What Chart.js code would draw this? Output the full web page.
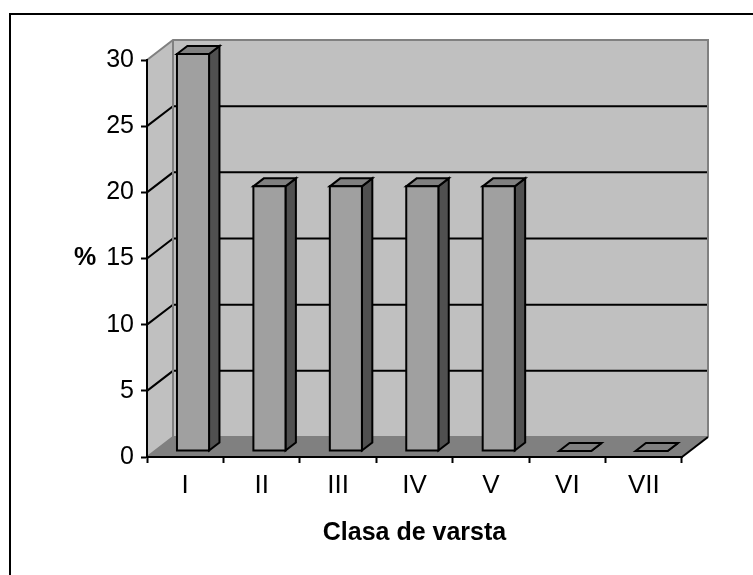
<!DOCTYPE html>
<html>
<head>
<meta charset="utf-8">
<script src="https://cdn.jsdelivr.net/npm/chart.js@4/dist/chart.umd.min.js"></script>
<style>
  html, body { margin: 0; padding: 0; background: #fff; overflow: hidden; }
  canvas { display: block; }
</style>
</head>
<body>
<canvas id="c" width="753" height="575"></canvas>
<script>
// ---- data ----
const categories = ['I', 'II', 'III', 'IV', 'V', 'VI', 'VII'];
const percentValues = [30, 20, 20, 20, 20, 0, 0];
const yTickMin = 0;
const yTickMax = 30;
const yTickStep = 5;
const xAxisTitle = 'Clasa de varsta';
const yAxisTitle = '%';

// ---- style constants ----
const FONT = '"Liberation Sans", Arial, Helvetica, sans-serif';
const TICK_FONT = '"Liberation Sans Narrow", "Arial Narrow", "Liberation Sans", Arial, sans-serif';
const DX = 26, DY = -20;           // depth offset front->back plane
const BAR_FRONT = 0.3, BAR_BACK = 0.7;

const threeD = {
  id: 'threeD',
  beforeDraw(chart) {
    const ctx = chart.ctx;
    const { left, right, top, bottom } = chart.chartArea;
    const ys = chart.scales.y;
    ctx.save();
    ctx.fillStyle = '#ffffff';
    ctx.fillRect(0, 0, chart.width, chart.height);

    // outer frame
    ctx.strokeStyle = '#000';
    ctx.lineWidth = 2;
    ctx.strokeRect(10, 14, chart.width + 20, chart.height + 20);

    // back wall
    ctx.fillStyle = '#c0c0c0';
    ctx.fillRect(left + DX, top + DY, right - left, bottom - top);
    // left wall
    ctx.beginPath();
    ctx.moveTo(left, top); ctx.lineTo(left + DX, top + DY);
    ctx.lineTo(left + DX, bottom + DY); ctx.lineTo(left, bottom);
    ctx.closePath();
    ctx.fill();
    // floor
    ctx.fillStyle = '#808080';
    ctx.beginPath();
    ctx.moveTo(left, bottom); ctx.lineTo(right, bottom);
    ctx.lineTo(right + DX, bottom + DY); ctx.lineTo(left + DX, bottom + DY);
    ctx.closePath();
    ctx.fill();

    // gridlines
    ctx.strokeStyle = '#000';
    ctx.lineWidth = 2;
    ys.ticks.forEach(t => {
      if (t.value <= ys.min || t.value >= ys.max) return;
      const yv = ys.getPixelForValue(t.value);
      ctx.beginPath();
      ctx.moveTo(left, yv);
      ctx.lineTo(left + DX, yv + DY);
      ctx.lineTo(right + DX, yv + DY);
      ctx.stroke();
    });

    // wall edges (gray)
    ctx.strokeStyle = '#808080';
    ctx.lineWidth = 2;
    ctx.beginPath();
    ctx.moveTo(left, top); ctx.lineTo(left + DX, top + DY);
    ctx.lineTo(right + DX, top + DY); ctx.lineTo(right + DX, bottom + DY);
    ctx.moveTo(left + DX, top + DY); ctx.lineTo(left + DX, bottom + DY);
    ctx.lineTo(right + DX, bottom + DY);
    ctx.moveTo(left, bottom); ctx.lineTo(left + DX, bottom + DY);
    ctx.stroke();
    // floor right edge (black)
    ctx.strokeStyle = '#000';
    ctx.beginPath();
    ctx.moveTo(right, bottom); ctx.lineTo(right + DX, bottom + DY);
    ctx.stroke();

    // horizontal y-axis title
    ctx.fillStyle = '#000';
    ctx.font = 'bold 25px ' + FONT;
    ctx.textAlign = 'center';
    ctx.textBaseline = 'middle';
    ctx.fillText(yAxisTitle, 85, (ys.top + ys.bottom) / 2);
    ctx.restore();
  },
  afterDatasetsDraw(chart) {
    const ctx = chart.ctx;
    const meta = chart.getDatasetMeta(0);
    const fx = BAR_FRONT * DX, fy = BAR_FRONT * DY;
    const bx = (BAR_BACK - BAR_FRONT) * DX, by = (BAR_BACK - BAR_FRONT) * DY;
    ctx.save();
    ctx.lineWidth = 2;
    ctx.strokeStyle = '#000';
    ctx.lineJoin = 'miter';
    meta.data.forEach(bar => {
      const p = bar.getProps(['x', 'y', 'base', 'width'], true);
      const l = p.x - p.width / 2 + fx, r = p.x + p.width / 2 + fx;
      const t = Math.min(p.y, p.base) + fy, b = Math.max(p.y, p.base) + fy;
      // side face
      ctx.fillStyle = '#505050';
      ctx.beginPath();
      ctx.moveTo(r, t); ctx.lineTo(r + bx, t + by); ctx.lineTo(r + bx, b + by); ctx.lineTo(r, b);
      ctx.closePath(); ctx.fill(); ctx.stroke();
      // top face
      ctx.fillStyle = '#808080';
      ctx.beginPath();
      ctx.moveTo(l, t); ctx.lineTo(l + bx, t + by); ctx.lineTo(r + bx, t + by); ctx.lineTo(r, t);
      ctx.closePath(); ctx.fill(); ctx.stroke();
      // front face
      ctx.fillStyle = '#a0a0a0';
      ctx.beginPath();
      ctx.rect(l, t, r - l, b - t);
      ctx.fill(); ctx.stroke();
    });
    ctx.restore();
  }
};

new Chart(document.getElementById('c'), {
  type: 'bar',
  data: {
    labels: categories,
    datasets: [{
      data: percentValues,
      backgroundColor: 'rgba(0,0,0,0)',
      borderWidth: 0,
      categoryPercentage: 1,
      barPercentage: 0.42
    }]
  },
  options: {
    responsive: false,
    animation: false,
    events: [],
    layout: { padding: { left: 0, right: 71, top: 60, bottom: 0 } },
    plugins: { legend: { display: false }, tooltip: { enabled: false } },
    scales: {
      x: {
        grid: { offset: true, drawOnChartArea: false, tickColor: '#000', tickLength: 6, tickWidth: 2 },
        border: { color: '#000', width: 2 },
        ticks: { color: '#000', font: { family: TICK_FONT, size: 26 }, padding: 7 },
        title: { display: true, text: xAxisTitle, color: '#000', font: { family: FONT, size: 25, weight: 'bold' }, padding: { top: 0, bottom: 27 } },
        afterFit(s) { s.height = 118; }
      },
      y: {
        min: yTickMin, max: yTickMax,
        grid: { drawOnChartArea: false, tickColor: '#000', tickLength: 6, tickWidth: 2 },
        border: { color: '#000', width: 2 },
        ticks: { stepSize: yTickStep, color: '#000', font: { family: TICK_FONT, size: 25 }, padding: 7 },
        afterFit(s) { s.width = 147; }
      }
    }
  },
  plugins: [threeD]
});
</script>
</body>
</html>
